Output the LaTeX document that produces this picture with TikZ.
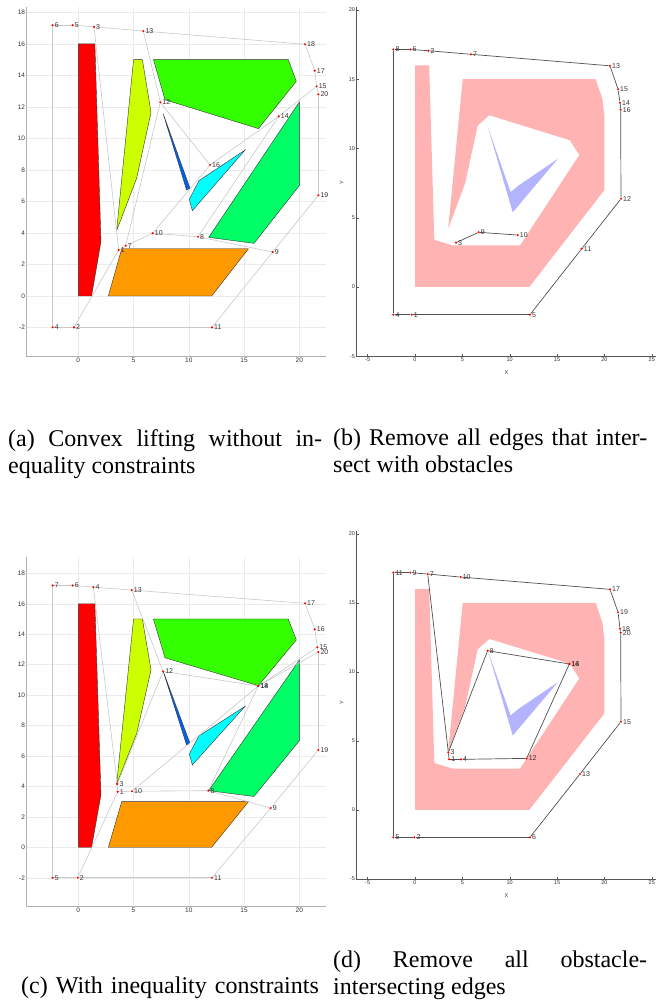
\documentclass[tikz,border=0pt]{standalone}
\usepackage{fontspec}
\setmainfont{Liberation Serif}
\newfontfamily\plotfont{Liberation Sans}
\usetikzlibrary{positioning}
\definecolor{ObsRed}{HTML}{FF0000}
\definecolor{ObsLime}{HTML}{CCFF00}
\definecolor{ObsGreen}{HTML}{33FF00}
\definecolor{ObsMint}{HTML}{00FF66}
\definecolor{ObsOrange}{HTML}{FF9900}
\definecolor{ObsBlue}{HTML}{0060F0}
\definecolor{ObsCyan}{HTML}{00FFFF}
\definecolor{ObsLine}{HTML}{333333}
\definecolor{Pink}{HTML}{FFB3B3}
\definecolor{Lavender}{HTML}{B3B3FF}
\definecolor{GridGray}{HTML}{EBEBEB}
\definecolor{AxisGray}{HTML}{B0B0B0}
\definecolor{AxisDark}{HTML}{555555}
\definecolor{EdgeGray}{HTML}{C8C8C8}
\definecolor{EdgeDark}{HTML}{505050}
\definecolor{TickText}{HTML}{333333}
\pgfdeclarelayer{back}
\pgfsetlayers{back,main}

% obstacles of the plain plots
\newcommand{\drawobstacles}{%
  \filldraw[draw=ObsLine,fill=ObsRed] (0,0) -- (1.2,0) -- (2.05,3.45) -- (1.5,16) -- (0,16) -- cycle;
  \filldraw[draw=ObsLine,fill=ObsLime] (3.47,4.15) -- (5.28,7.47) -- (6.58,11.65) -- (5.8,15) -- (5.0,15) -- cycle;
  \filldraw[draw=ObsLine,fill=ObsGreen] (6.8,15) -- (19,15) -- (19.73,13.62) -- (16.3,10.62) -- (7.85,12.45) -- cycle;
  \filldraw[draw=ObsLine,fill=ObsMint] (11.8,3.72) -- (15.9,3.34) -- (20,7) -- (20,12.3) -- cycle;
  \filldraw[draw=ObsLine,fill=ObsOrange] (2.72,0) -- (12.07,0) -- (15.4,3) -- (3.93,3) -- cycle;
  \filldraw[draw=ObsLine,fill=ObsBlue] (7.69,11.55) -- (10.1,6.85) -- (9.8,6.72) -- cycle;
  \filldraw[draw=ObsLine,fill=ObsCyan] (10.32,5.41) -- (10.05,6.13) -- (10.92,7.32) -- (15.09,9.26) -- cycle;
}
% merged obstacles of the pruned plots
\newcommand{\drawregions}{%
  \fill[Pink] (0,0) -- (12.07,0) -- (20,7) -- (20,12.3) -- (19.8,13.55) -- (19.08,15)
    -- (5.04,15) -- (3.5,4.2) -- (5.3,7.5) -- (6.62,11.65) -- (7.85,12.4) -- (16.35,10.6)
    -- (17.35,9.53) -- (11.09,3.0) -- (3.98,3.0) -- (2.04,3.4) -- (1.5,16) -- (0,16) -- cycle;
  \fill[Lavender] (7.69,11.55) -- (10.32,5.39) -- (15.09,9.26) -- (10.92,7.32) -- (10.1,6.85) -- cycle;
}

\begin{document}
\begin{tikzpicture}[x=1pt,y=1pt,
  pt/.style={circle,fill=red,inner sep=0pt,minimum size=2.4pt},
  ptlabel/.style={font=\plotfont\fontsize{7}{8}\selectfont,text=TickText,inner sep=0.6pt},
  ticklabel/.style={font=\plotfont\fontsize{6.5}{8}\selectfont,text=TickText,inner sep=1.5pt},
  smalltick/.style={font=\plotfont\fontsize{5.5}{7}\selectfont,text=TickText,inner sep=1.5pt},
  lightedge/.style={draw=EdgeGray,line width=0.6pt},
  darkedge/.style={draw=EdgeDark,line width=0.7pt},
  caption/.style={font=\fontsize{24}{27}\selectfont,text width=314pt,inner sep=0pt,anchor=north west}]
  \useasboundingbox (0,0) rectangle (657,1005);

  % (a) convex lifting
  \begin{scope}[shift={(78.3pt,709pt)},x=11.05pt,y=15.76pt]
    \begin{pgfonlayer}{back}
      \foreach \x in {0,5,...,20}
        \draw[GridGray] (\x,-3.85) -- (\x,18.36);
      \foreach \y in {-2,0,...,18}
        \draw[GridGray] (-4.67,\y) -- (22.45,\y);
      \draw[AxisGray] (-4.67,18.36) -- (-4.67,-3.85) -- (22.45,-3.85);
      \drawobstacles
    \end{pgfonlayer}
    \foreach \x in {0,5,...,20}
      \node[ticklabel,below] at (\x,-3.85) {\x};
    \foreach \y in {-2,0,...,18}
      \node[ticklabel,left] at (-4.67,\y) {\y};
    \foreach \n/\x/\y in {1/3.65/2.92,2/-0.39/-1.99,3/1.42/17.08,4/-2.32/-1.99,
        5/-0.51/17.18,6/-2.32/17.18,7/4.29/3.19,8/10.83/3.76,9/17.59/2.79,
        10/6.73/3.98,11/12.1/-1.99,12/7.42/12.29,13/5.89/16.81,14/18.14/11.4,
        15/21.57/13.3,16/11.92/8.31,17/21.4/14.3,18/20.52/15.97,19/21.72/6.39,
        20/21.72/12.8}
      \node[pt,label={[ptlabel]right:\n}] (a\n) at (\x,\y) {};
    \begin{pgfonlayer}{back}
      \foreach \s/\t in {6/5,5/3,3/13,13/18,18/17,17/15,15/20,20/19,19/9,9/11,
          11/2,2/4,4/6,3/1,2/1,1/7,7/10,10/8,8/9,13/12,12/7,12/16,10/16,
          16/14,14/15,8/14}
        \draw[lightedge] (a\s) -- (a\t);
    \end{pgfonlayer}
  \end{scope}

  % (b) pruned edges
  \begin{scope}[shift={(415pt,718pt)},x=9.47pt,y=13.85pt]
    \begin{pgfonlayer}{back}
      \drawregions
      \draw[AxisDark,line width=0.9pt] (-6.17,20.2) -- (-6.17,-5) -- (25.5,-5);
    \end{pgfonlayer}
    \foreach \x in {-5,0,...,25} {
      \draw[AxisDark] (\x,-5) -- ++(0,2pt);
      \node[smalltick,below] at (\x,-5) {\x};
    }
    \foreach \y in {-5,0,...,20} {
      \draw[AxisDark] (-6.17,\y) -- ++(2pt,0);
      \node[smalltick,left] at (-6.17,\y) {\y};
    }
    \node[smalltick] (xlabb) at (9.67,-6.2) {X};
    \node[smalltick,rotate=90] (ylabb) at (-7.75,7.5) {Y};
    \foreach \n/\x/\y in {1/-0.35/-2.0,2/1.41/17.06,3/4.33/3.2,4/-2.29/-2.0,
        5/12.14/-2.0,6/-0.49/17.15,7/5.91/16.8,8/-2.29/17.15,9/6.72/3.95,
        10/10.84/3.75,11/17.6/2.76,12/21.75/6.37,13/20.59/15.97,14/21.65/13.3,
        15/21.44/14.28,16/21.72/12.8}
      \node[pt,label={[ptlabel]right:\n}] (b\n) at (\x,\y) {};
    \begin{pgfonlayer}{back}
      \foreach \s/\t in {8/6,6/2,2/7,7/13,13/15,15/14,14/16,16/12,12/11,11/5,
          5/1,1/4,4/8,3/9,9/10}
        \draw[darkedge] (b\s) -- (b\t);
    \end{pgfonlayer}
  \end{scope}

  % (c) with inequality constraints
  \begin{scope}[shift={(78.3pt,157.7pt)},x=11.05pt,y=15.22pt]
    \begin{pgfonlayer}{back}
      \foreach \x in {0,5,...,20}
        \draw[GridGray] (\x,-3.88) -- (\x,19.1);
      \foreach \y in {-2,0,...,18}
        \draw[GridGray] (-4.67,\y) -- (22.45,\y);
      \draw[AxisGray] (-4.67,19.1) -- (-4.67,-3.88) -- (22.45,-3.88);
      \drawobstacles
    \end{pgfonlayer}
    \foreach \x in {0,5,...,20}
      \node[ticklabel,below] at (\x,-3.88) {\x};
    \foreach \y in {-2,0,...,18}
      \node[ticklabel,left] at (-4.67,\y) {\y};
    \foreach \n/\x/\y in {1/3.56/3.65,2/-0.05/-2.0,3/3.53/4.16,4/1.36/17.1,
        5/-2.32/-2.0,6/-0.51/17.2,7/-2.32/17.2,8/11.77/3.72,9/17.41/2.58,
        10/4.86/3.68,11/12.1/-2.0,12/7.67/11.56,13/4.83/16.9,14/16.29/10.6,
        15/21.63/13.14,16/21.4/14.32,17/20.52/16.03,18/16.29/10.6,
        19/21.72/6.39,20/21.72/12.83}
      \node[pt,label={[ptlabel]right:\n}] (c\n) at (\x,\y) {};
    \begin{pgfonlayer}{back}
      \foreach \s/\t in {7/6,6/4,4/13,13/17,17/16,16/15,15/20,20/19,19/9,9/11,
          11/2,2/5,5/7,4/3,3/1,2/1,1/10,10/8,8/9,13/12,12/3,12/18,10/14,
          14/8,18/15,14/20}
        \draw[lightedge] (c\s) -- (c\t);
    \end{pgfonlayer}
  \end{scope}

  % (d) pruned edges with constraints
  \begin{scope}[shift={(415pt,195pt)},x=9.47pt,y=13.8pt]
    \begin{pgfonlayer}{back}
      \drawregions
      \draw[AxisDark,line width=0.9pt] (-6.17,20.2) -- (-6.17,-5) -- (25.5,-5);
    \end{pgfonlayer}
    \foreach \x in {-5,0,...,25} {
      \draw[AxisDark] (\x,-5) -- ++(0,2pt);
      \node[smalltick,below] at (\x,-5) {\x};
    }
    \foreach \y in {-5,0,...,20} {
      \draw[AxisDark] (-6.17,\y) -- ++(2pt,0);
      \node[smalltick,left] at (-6.17,\y) {\y};
    }
    \node[smalltick] (xlabd) at (9.67,-6.2) {X};
    \node[smalltick,rotate=90] (ylabd) at (-7.75,7.75) {Y};
    \foreach \n/\x/\y in {1/3.6/3.67,2/-0.07/-1.98,3/3.52/4.18,4/4.86/3.67,
        5/-2.29/-1.98,6/12.14/-1.98,7/1.34/17.1,8/7.67/11.54,9/-0.49/17.2,
        10/4.82/16.88,11/-2.29/17.2,12/11.79/3.74,13/17.42/2.61,14/16.3/10.58,
        15/21.75/6.4,16/16.3/10.58,17/20.59/15.99,18/21.65/13.14,
        19/21.44/14.33,20/21.72/12.85}
      \node[pt,label={[ptlabel]right:\n}] (d\n) at (\x,\y) {};
    \begin{pgfonlayer}{back}
      \foreach \s/\t in {11/9,9/7,7/10,10/17,17/19,19/18,18/20,20/15,15/13,
          13/6,6/2,2/5,5/11,7/3,3/1,1/4,4/12,3/8,8/14,14/12}
        \draw[darkedge] (d\s) -- (d\t);
    \end{pgfonlayer}
  \end{scope}

  % captions
  \node[caption,align=justify] (capa) at (8,576)
    {(a) Convex lifting without in-\linebreak equality constraints};
  \node[caption,align=justify] (capb) at (333,576)
    {(b) Remove all edges that inter-\linebreak sect with obstacles};
  \node[caption,align=center,anchor=north] (capc) at (170,28)
    {(c) With inequality constraints};
  \node[caption,align=justify] (capd) at (333,54)
    {(d) Remove all obstacle-\linebreak intersecting edges};
\end{tikzpicture}
\end{document}
